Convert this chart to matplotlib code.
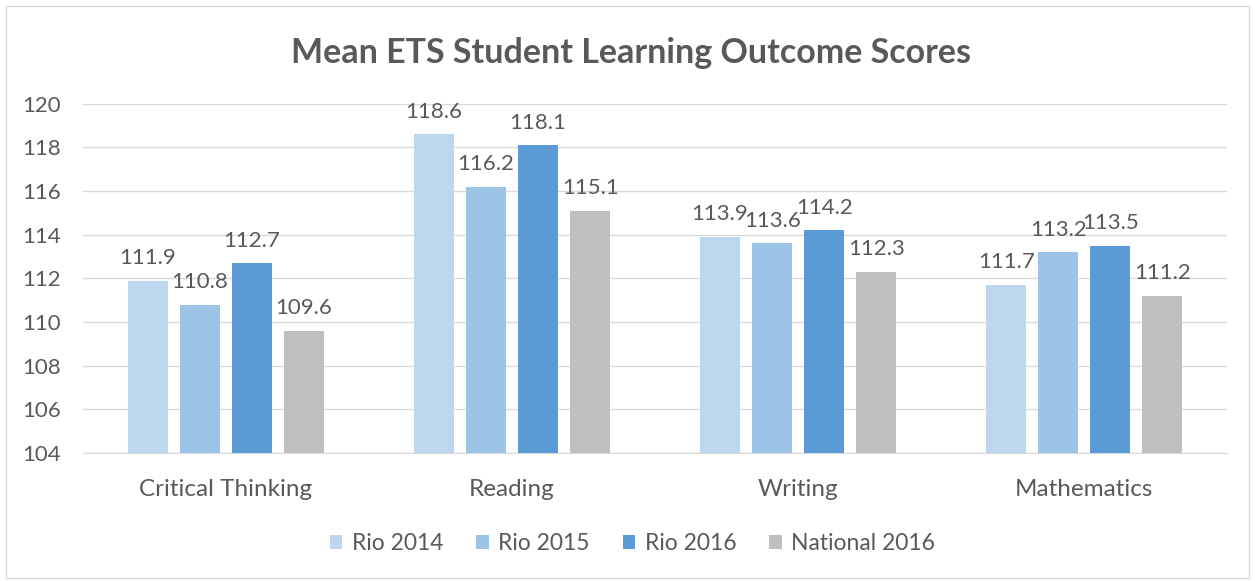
import matplotlib
matplotlib.use('Agg')
import matplotlib.pyplot as plt
import numpy as np

categories = ['Critical Thinking', 'Reading', 'Writing', 'Mathematics']
series = ['Rio 2014', 'Rio 2015', 'Rio 2016', 'National 2016']
rio_2014 = [111.9, 118.6, 113.9, 111.7]
rio_2015 = [110.8, 116.2, 113.6, 113.2]
rio_2016 = [112.7, 118.1, 114.2, 113.5]
national_2016 = [109.6, 115.1, 112.3, 111.2]
colors = ['#BDD7EE', '#9DC3E6', '#5B9BD5', '#BFBFBF']
TXT = '#595959'

plt.rcParams['font.family'] = ['Lato', 'DejaVu Sans']

fig = plt.figure(figsize=(12.55, 5.81), dpi=100)
ax = fig.add_axes([0.066, 0.2203, 0.912, 0.601])

x = np.arange(len(categories))
width = 0.14
step = 0.182
values = [rio_2014, rio_2015, rio_2016, national_2016]
for i, (name, vals) in enumerate(zip(series, values)):
    pos = x + (i - 1.5) * step
    ax.bar(pos, np.array(vals) - 104, width, bottom=104, color=colors[i], label=name, zorder=3)
    for p, v in zip(pos, vals):
        ax.annotate(f'{v:.1f}', (p, v), xytext=(0, 9), textcoords='offset points',
                    ha='center', va='bottom', fontsize=16, color=TXT)

ax.set_xlim(-0.5, 3.5)
ax.set_ylim(104, 120)
ax.set_yticks(range(104, 121, 2))
ax.set_xticks(x)
ax.set_xticklabels(categories)
ax.tick_params(axis='y', length=0, labelsize=16, labelcolor=TXT, pad=16)
ax.tick_params(axis='x', length=0, labelsize=17.5, labelcolor=TXT, pad=19)
ax.grid(axis='y', color='#D9D9D9', linewidth=1, zorder=0)
for s in ['top', 'right', 'left']:
    ax.spines[s].set_visible(False)
ax.spines['bottom'].set_color('#D9D9D9')

fig.text(0.503, 0.908, 'Mean ETS Student Learning Outcome Scores', ha='center', va='center',
         fontsize=24.5, fontweight='bold', color=TXT)

leg = fig.legend(loc='center', bbox_to_anchor=(0.504, 0.064), ncol=4, frameon=False,
                 fontsize=16.5, handlelength=0.55, handleheight=0.55, handletextpad=0.4,
                 columnspacing=1.45)
for t in leg.get_texts():
    t.set_color(TXT)

fig.add_artist(plt.Rectangle((0.005, 0.005), 0.99, 0.985, transform=fig.transFigure,
                             fill=False, edgecolor='#D9D9D9', linewidth=1))

fig.savefig('out.png', dpi=100)
